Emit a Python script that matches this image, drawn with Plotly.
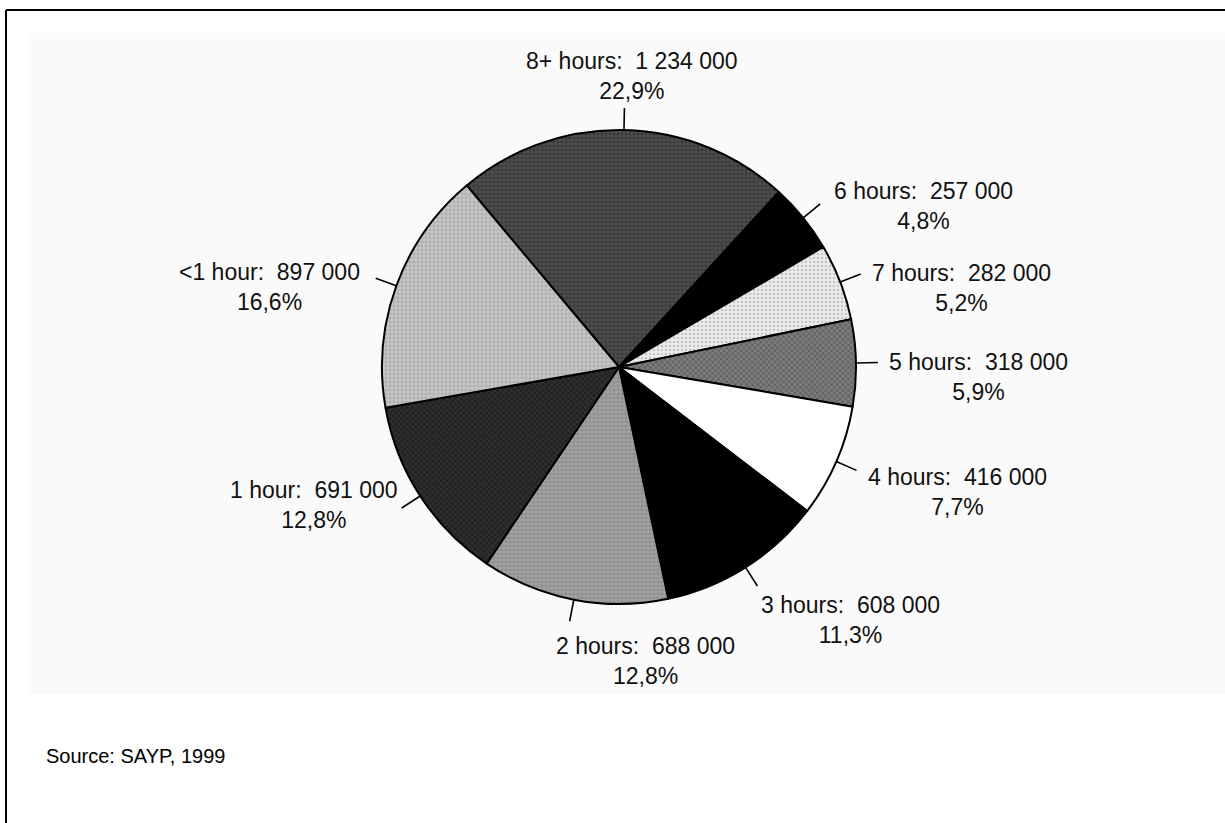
import math
import plotly.graph_objects as go

W, H = 1225, 823

# Daily viewing time, number of viewers per category (clockwise from the top)
categories = ["8+ hours", "6 hours", "7 hours", "5 hours", "4 hours",
              "3 hours", "2 hours", "1 hour", "<1 hour"]
viewers = [1234000, 257000, 282000, 318000, 416000,
           608000, 688000, 691000, 897000]

# Greyscale fills with a fine texture on top
fill_colors = ["#505050", "#000000", "#ececec", "#7c7c7c", "#ffffff",
               "#000000", "#a4a4a4", "#2f2f2f", "#c8c8c8"]
texture_colors = ["#2a2a2a", "#000000", "#c4c4c4", "#4e4e4e", "#ffffff",
                  "#000000", "#7e7e7e", "#151515", "#9e9e9e"]
texture_shapes = ["+", "", ".", "x", "", "", "+", "x", "+"]

# Pie geometry in pixels
CX, CY, R = 619, 367, 237
START_DEG = -40          # first slice starts 40 degrees left of 12 o'clock
TICK_LEN = 22

# Label placement relative to the end of each leader tick:
# (xanchor, yanchor, dx, dy) in pixels
label_place = [
    ("center", "bottom", 8, -2),
    ("left", "middle", 12, 2),
    ("left", "middle", 9, 14),
    ("left", "middle", 9, 14),
    ("left", "middle", 10, 22),
    ("left", "top", 2, 4),
    ("left", "top", -16, 10),
    ("right", "middle", -2, -3),
    ("right", "middle", -14, 9),
]


def px(x):
    return x / W


def py(y):
    return 1 - y / H


def fmt_num(v):
    return f"{v:,}".replace(",", " ")


total = sum(viewers)
shares = [v / total for v in viewers]

fig = go.Figure()

fig.add_trace(go.Pie(
    labels=categories,
    values=viewers,
    sort=False,
    direction="clockwise",
    rotation=START_DEG,
    textinfo="none",
    hoverinfo="label+value+percent",
    showlegend=False,
    marker=dict(
        colors=fill_colors,
        line=dict(color="#000000", width=2),
        pattern=dict(
            shape=texture_shapes,
            fgcolor=texture_colors,
            bgcolor=fill_colors,
            size=4,
            solidity=0.3,
            fillmode="replace",
        ),
    ),
    domain=dict(x=[px(CX - R), px(CX + R)], y=[py(CY + R), py(CY - R)]),
))

shapes = [
    # light backdrop panel
    dict(type="rect", xref="paper", yref="paper",
         x0=px(28), x1=px(1226), y0=py(694), y1=py(33),
         fillcolor="#fafafa", line=dict(width=0), layer="below"),
    # outer frame (top and left edges)
    dict(type="line", xref="paper", yref="paper",
         x0=px(6), x1=px(1226), y0=py(10), y1=py(10),
         line=dict(color="#000000", width=2)),
    dict(type="line", xref="paper", yref="paper",
         x0=px(6), x1=px(6), y0=py(10), y1=py(824),
         line=dict(color="#000000", width=2)),
]

annotations = []
cum = 0.0
for cat, v, s, place in zip(categories, viewers, shares, label_place):
    mid = math.radians(START_DEG + 360 * (cum + s / 2))
    cum += s
    sx, sy = math.sin(mid), -math.cos(mid)
    x0, y0 = CX + R * sx, CY + R * sy
    x1, y1 = CX + (R + TICK_LEN) * sx, CY + (R + TICK_LEN) * sy
    shapes.append(dict(type="line", xref="paper", yref="paper",
                       x0=px(x0), y0=py(y0), x1=px(x1), y1=py(y1),
                       line=dict(color="#000000", width=1.6)))
    xa, ya, dx, dy = place
    pct = f"{100 * s:.1f}".replace(".", ",") + "%"
    annotations.append(dict(
        xref="paper", yref="paper",
        x=px(x1 + dx), y=py(y1 + dy),
        xanchor=xa, yanchor=ya, align="center",
        text=f"{cat}:\u00a0 {fmt_num(v)}<br>{pct}",
        showarrow=False,
        font=dict(family="Liberation Sans, Arial, sans-serif", size=23, color="#111111"),
    ))

annotations.append(dict(
    xref="paper", yref="paper", x=px(44), y=py(756),
    xanchor="left", yanchor="middle", showarrow=False,
    text="Source: SAYP, 1999",
    font=dict(family="Liberation Sans, Arial, sans-serif", size=20, color="#000000"),
))

fig.update_layout(
    width=W, height=H,
    margin=dict(l=0, r=0, t=0, b=0),
    paper_bgcolor="#ffffff",
    plot_bgcolor="#ffffff",
    shapes=shapes,
    annotations=annotations,
)

fig.write_html("out.html")
